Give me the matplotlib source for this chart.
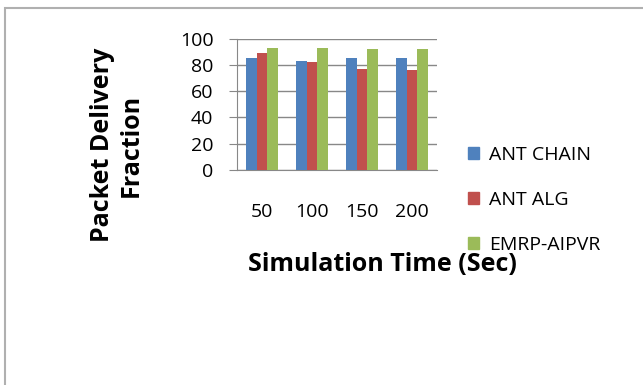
import matplotlib.pyplot as plt
import numpy as np
from matplotlib.patches import Rectangle

# data
times = ['50', '100', '150', '200']
ant_chain = [85, 83, 85, 85]
ant_alg = [89, 82, 77, 76]
emrp_aipvr = [93, 93, 92, 92]

series = [('ANT CHAIN', ant_chain, '#4f81bd'),
          ('ANT ALG', ant_alg, '#c0504d'),
          ('EMRP-AIPVR', emrp_aipvr, '#9bbb59')]

plt.rcParams['font.family'] = ['Open Sans', 'DejaVu Sans']

fig = plt.figure(figsize=(6.43, 3.85), dpi=100)
ax = fig.add_axes([0.3686, 0.5584, 0.311, 0.3416])

x = np.arange(len(times))
w = 0.213
for i, (name, vals, col) in enumerate(series):
    ax.bar(x + (i - 1) * w, vals, w, color=col, label=name, zorder=3)

ax.set_xlim(-0.5, len(times) - 0.5)
ax.set_ylim(0, 100)
ax.set_yticks(range(0, 101, 20))
ax.set_xticks(x)
ax.set_xticklabels(times)
ax.grid(axis='y', color='#888888', lw=1, zorder=0)
for s in ['top', 'right']:
    ax.spines[s].set_visible(False)
for s in ['left', 'bottom']:
    ax.spines[s].set_color('#888888')
ax.tick_params(axis='y', length=6, color='#888888', pad=11, labelsize=14)
ax.tick_params(axis='x', length=0, pad=24, labelsize=14)

fig.text(0.182, 0.623, 'Packet Delivery\nFraction', rotation=90, ha='center',
         va='center', fontsize=18, fontweight='bold', linespacing=1.2)
fig.text(0.594, 0.312, 'Simulation Time (Sec)', ha='center', va='center',
         fontsize=18, fontweight='bold')

handles = [Rectangle((0, 0), 1, 1, color=c) for _, _, c in series]
fig.legend(handles, [n for n, _, _ in series], loc='upper left',
           bbox_to_anchor=(0.715, 0.642), frameon=False, fontsize=14,
           handlelength=0.6, handleheight=0.6, handletextpad=0.5,
           labelspacing=1.4, borderaxespad=0)

# outer frame
fig.add_artist(Rectangle((0.008, -0.02), 1.1, 1.0, transform=fig.transFigure,
                         fill=False, edgecolor='#b0b0b0', lw=1.5))

fig.savefig('out.png', dpi=100)
